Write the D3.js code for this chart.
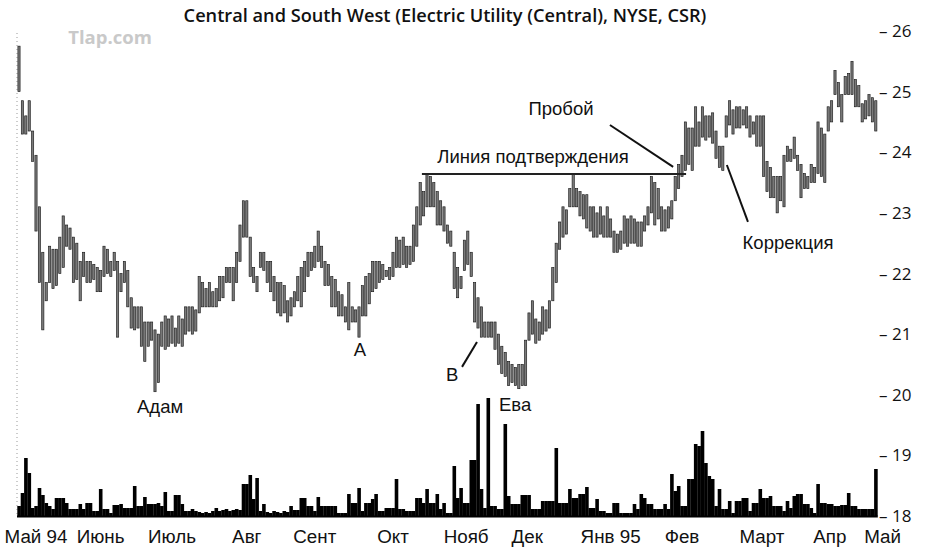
<!DOCTYPE html>
<html>
<head>
<meta charset="utf-8">
<script src="https://cdn.jsdelivr.net/npm/d3@7"></script>
<style>
  body { margin: 0; background: #fff; }
  svg { display: block; }
</style>
</head>
<body>
<svg id="chart" width="926" height="557"></svg>
<script>
// daily bars, May 94 .. May 95
const highs = [
  25.75,24.85,24.6,24.85,24.35,23.95,23.1,22.35,21.85,22.45,
  22.4,22.4,22.6,22.95,22.8,22.75,22.6,22.5,22.2,22.35,
  22.2,22.2,22.15,22.1,22.05,22.45,22.4,22.2,22.35,22.2,
  22.0,22.2,22.05,21.6,21.45,21.45,21.45,21.2,21.2,21.2,
  21.07,21.0,21.2,21.3,21.25,21.3,21.1,21.3,21.25,21.45,
  21.45,21.45,21.4,21.95,21.85,21.75,21.85,21.7,21.75,21.95,
  21.95,22.1,22.1,22.1,22.35,22.8,23.2,23.2,22.6,22.1,
  21.95,22.35,22.35,22.2,22.2,21.95,21.85,21.85,21.8,21.55,
  21.6,21.7,21.95,22.1,22.2,22.35,22.35,22.45,22.7,22.45,
  22.2,22.15,21.95,21.9,21.7,21.65,21.45,21.85,21.45,21.4,
  21.45,21.8,21.95,22.0,22.2,22.2,22.2,22.15,22.05,22.1,
  22.35,22.6,22.55,22.6,22.45,22.45,22.8,23.1,23.5,23.35,
  23.65,23.6,23.5,23.35,23.2,23.1,22.8,22.7,22.35,22.1,
  21.95,22.55,22.7,22.35,21.85,21.6,21.45,21.2,21.2,21.2,
  21.2,21.0,20.8,20.7,20.55,20.5,20.45,20.5,20.5,20.9,
  21.35,21.55,21.25,21.2,21.45,21.4,21.55,22.1,22.5,22.85,
  23.1,23.05,23.4,23.65,23.4,23.35,23.3,23.3,23.1,23.1,
  23.0,23.1,22.95,23.1,22.9,22.7,22.65,22.7,22.95,22.9,
  22.95,22.9,22.85,22.85,22.95,23.1,23.6,23.5,23.4,23.1,
  23.05,23.1,23.2,23.6,23.8,23.95,24.5,24.4,24.4,24.75,
  24.5,24.75,24.6,24.6,24.65,24.35,24.1,24.1,24.6,24.85,
  24.7,24.75,24.75,24.7,24.75,24.6,24.5,24.6,24.6,24.6,
  23.85,23.75,23.6,23.6,23.6,23.95,24.1,24.05,24.25,23.95,
  23.8,23.65,23.6,23.8,23.75,24.5,24.4,24.3,24.75,24.85,
  25.35,25.15,24.95,25.25,25.3,25.5,25.2,25.1,24.8,24.85,
  24.95,24.9,24.85
];
const lows = [
  25.0,24.3,24.3,24.35,23.85,22.7,21.85,21.07,21.55,21.85,
  21.75,21.8,22.0,22.1,22.45,22.4,21.85,21.9,21.55,21.95,
  21.85,21.85,21.9,21.7,21.7,21.95,22.0,21.95,22.05,20.95,
  21.7,21.85,21.45,21.1,21.07,21.1,20.8,20.55,20.8,20.9,
  20.05,20.2,20.8,20.75,20.8,20.85,20.8,20.85,20.8,21.0,
  21.05,21.0,21.05,21.35,21.45,21.45,21.45,21.45,21.45,21.55,
  21.6,21.85,21.85,21.55,21.85,22.2,22.6,22.6,21.95,21.85,
  21.7,22.1,22.05,21.85,21.7,21.55,21.35,21.3,21.35,21.2,
  21.3,21.45,21.55,21.45,21.7,21.95,22.05,22.1,22.2,22.1,
  21.8,21.8,21.45,21.45,21.3,21.3,21.2,21.07,21.2,21.2,
  20.95,21.3,21.3,21.5,21.7,21.75,21.85,21.9,21.95,21.9,
  21.95,22.1,22.1,22.15,22.1,22.15,22.2,22.45,22.8,22.95,
  23.1,23.1,23.1,22.8,22.8,22.7,22.5,22.45,21.75,21.6,
  21.75,22.05,22.15,21.95,21.2,21.1,20.95,20.95,20.95,20.95,
  20.75,20.5,20.35,20.3,20.15,20.2,20.15,20.1,20.15,20.15,
  20.9,21.0,20.85,20.9,21.0,21.05,21.1,21.55,21.85,22.4,
  22.6,22.65,23.1,23.1,23.1,22.95,22.9,22.75,22.7,22.6,
  22.6,22.65,22.6,22.6,22.6,22.35,22.35,22.4,22.5,22.45,
  22.5,22.5,22.45,22.45,22.7,22.8,23.0,22.8,22.9,22.7,
  22.7,22.75,22.9,23.2,23.4,23.6,23.7,23.8,23.7,24.1,
  24.1,24.25,24.2,24.25,24.15,23.9,23.75,23.7,24.25,24.45,
  24.3,24.4,24.4,24.45,24.4,24.25,24.3,24.1,24.1,23.6,
  23.35,23.25,23.25,23.0,23.2,23.1,23.85,23.85,23.9,23.7,
  23.25,23.4,23.4,23.5,23.5,23.65,23.6,23.5,24.35,24.5,
  24.95,24.75,24.5,24.95,24.95,24.95,24.75,24.75,24.5,24.55,
  24.6,24.5,24.35
];
// volume, thousand shares
const volumes = [
  100,230,580,430,80,100,280,210,130,100,
  70,180,180,180,130,70,70,70,120,70,
  130,130,50,50,270,70,70,30,110,110,
  120,80,80,80,300,100,100,190,120,120,
  120,130,100,240,50,50,210,210,120,50,
  50,70,50,40,30,40,30,50,80,50,
  60,70,50,60,70,60,320,320,410,170,
  380,50,120,40,30,50,40,30,50,40,
  100,60,60,180,180,100,100,50,190,100,
  100,100,100,100,30,30,30,220,130,130,
  280,50,130,130,170,220,50,50,80,80,
  80,370,70,70,50,50,50,180,180,130,
  270,130,130,220,70,130,30,30,500,180,
  280,130,130,560,560,1120,270,80,1180,100,
  100,70,70,920,200,120,120,120,210,210,
  210,70,70,70,150,150,150,150,680,130,
  130,130,270,180,180,220,220,290,80,80,
  170,50,50,30,30,130,130,30,30,30,
  30,120,70,220,180,120,120,70,70,70,
  120,70,420,250,300,100,100,370,370,720,
  700,850,530,400,370,100,270,70,70,150,
  30,150,150,180,180,50,130,130,270,180,
  180,200,100,100,100,50,150,80,200,220,
  220,120,120,80,30,320,130,130,120,120,
  100,100,110,110,230,100,100,70,70,70,
  70,70,470
];

const monthLabels = ['Май 94', 'Июнь', 'Июль', 'Авг', 'Сент', 'Окт', 'Нояб', 'Дек', 'Янв 95', 'Фев', 'Март', 'Апр', 'Май'];
const monthPos = [5, 24, 45, 67, 87, 110, 131.5, 149.5, 174, 195, 218.5, 238.5, 254];
const priceTicks = [18, 19, 20, 21, 22, 23, 24, 25, 26];

// confirmation line: level and bar span
const confirmLevel = 23.64;
const confirmSpan = [118.5, 196.2];

const notes = [
  { text: 'Адам', i: 41.5, p: 19.7 },
  { text: 'A', i: 100.3, p: 20.64 },
  { text: 'B', i: 127.4, p: 20.23 },
  { text: 'Ева', i: 145.9, p: 19.73 },
  { text: 'Линия подтверждения', i: 151.2, p: 23.82 },
  { text: 'Пробой', i: 159.4, p: 24.61 },
  { text: 'Коррекция', i: 226.2, p: 22.40 }
];
const pointers = [
  { i0: 130.3, p0: 20.46, i1: 134.7, p1: 20.87 },
  { i0: 173.8, p0: 24.45, i1: 192.4, p1: 23.76 },
  { i0: 208.2, p0: 23.79, i1: 214.4, p1: 22.85 }
];

const svg = d3.select('#chart');
const n = highs.length;

const x = d3.scaleLinear().domain([0, n - 1]).range([19, 875.8]);
const y = d3.scaleLinear().domain([18, 26]).range([516, 31]);
const yVol = d3.scaleLinear().domain([0, 1200]).range([516, 396]);
const step = x(1) - x(0);

const font = '"Liberation Sans", Arial, sans-serif';

// title
svg.append('text')
    .attr('x', 445).attr('y', 22)
    .attr('text-anchor', 'middle')
    .attr('font-family', '"Open Sans", sans-serif')
    .attr('font-weight', 600)
    .attr('font-size', 18.2)
    .attr('fill', '#111')
    .text('Central and South West (Electric Utility (Central), NYSE, CSR)');

// watermark
svg.append('text')
    .attr('x', 110).attr('y', 44)
    .attr('text-anchor', 'middle')
    .attr('font-family', '"Open Sans", sans-serif')
    .attr('font-weight', 700)
    .attr('font-size', 18.5)
    .attr('fill', '#c9c9c9')
    .text('Tlap.com');

// dotted left edge
svg.append('line')
    .attr('x1', 17).attr('x2', 17)
    .attr('y1', y(26) + 2).attr('y2', y(18))
    .attr('stroke', '#999').attr('stroke-width', 1)
    .attr('stroke-dasharray', '1,3');

// volume
svg.append('g').selectAll('rect')
    .data(volumes)
    .join('rect')
    .attr('x', (d, i) => x(i) - step / 2)
    .attr('width', step + 0.2)
    .attr('y', d => yVol(d))
    .attr('height', d => yVol(0) - yVol(d))
    .attr('fill', '#000');

svg.append('line')
    .attr('x1', 17).attr('x2', x(n - 1) + 2)
    .attr('y1', 516.5).attr('y2', 516.5)
    .attr('stroke', '#000').attr('stroke-width', 2);

// price bars
svg.append('g').selectAll('rect')
    .data(highs)
    .join('rect')
    .attr('x', (d, i) => x(i) - 1.1)
    .attr('width', 2.2)
    .attr('y', d => y(d))
    .attr('height', (d, i) => Math.max(1, y(lows[i]) - y(d)))
    .attr('fill', '#7a7a7a')
    .attr('stroke', '#1a1a1a')
    .attr('stroke-width', 0.65);

// right axis
const axis = svg.append('g');
axis.selectAll('text')
    .data(priceTicks)
    .join('text')
    .attr('x', 879)
    .attr('y', d => y(d))
    .attr('dy', '0.36em')
    .attr('font-family', '"Open Sans", sans-serif')
    .attr('font-size', 17)
    .attr('fill', '#111')
    .text(d => '– ' + d);

// month labels
svg.append('g').selectAll('text')
    .data(monthLabels)
    .join('text')
    .attr('x', (d, i) => x(monthPos[i]))
    .attr('y', 543)
    .attr('text-anchor', 'middle')
    .attr('font-family', font)
    .attr('font-size', 18.8)
    .attr('fill', '#111')
    .text(d => d);

// confirmation line
svg.append('line')
    .attr('x1', x(confirmSpan[0])).attr('x2', x(confirmSpan[1]))
    .attr('y1', y(confirmLevel)).attr('y2', y(confirmLevel))
    .attr('stroke', '#222').attr('stroke-width', 2);

// pointers
svg.append('g').selectAll('line')
    .data(pointers)
    .join('line')
    .attr('x1', d => x(d.i0)).attr('y1', d => y(d.p0))
    .attr('x2', d => x(d.i1)).attr('y2', d => y(d.p1))
    .attr('stroke', '#111').attr('stroke-width', 2);

// annotations
svg.append('g').selectAll('text')
    .data(notes)
    .join('text')
    .attr('x', d => x(d.i))
    .attr('y', d => y(d.p))
    .attr('text-anchor', 'middle')
    .attr('font-family', font)
    .attr('font-size', 18.5)
    .attr('fill', '#111')
    .text(d => d.text);
</script>
</body>
</html>
